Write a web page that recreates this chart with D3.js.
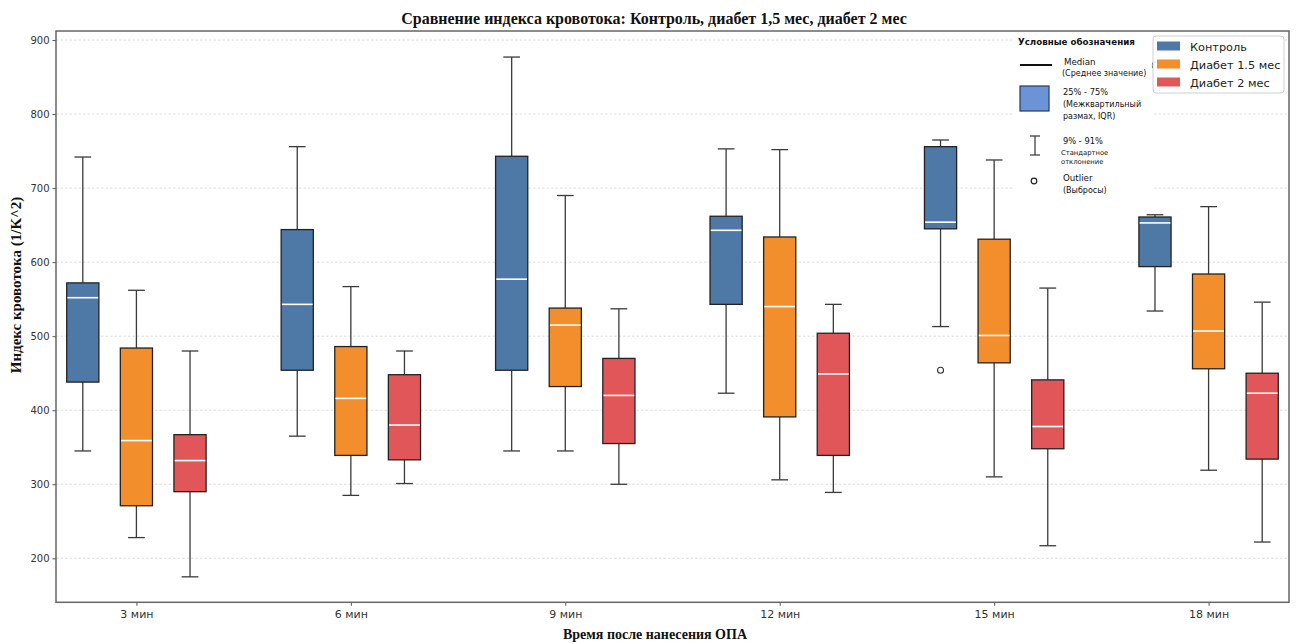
<!DOCTYPE html>
<html>
<head>
<meta charset="utf-8">
<script src="https://cdn.jsdelivr.net/npm/d3@7"></script>
<style>
  html, body { margin: 0; padding: 0; background: #fff; }
  svg { display: block; }
</style>
</head>
<body>
<svg id="chart" width="1297" height="644"></svg>
<script>
// Time points after application
const categories = ["3 мин", "6 мин", "9 мин", "12 мин", "15 мин", "18 мин"];
const seriesNames = ["Контроль", "Диабет 1.5 мес", "Диабет 2 мес"];
const seriesColors = ["#4e79a7", "#f28e2b", "#e15759"];

// Box statistics per time point: [whisker low (9%), Q1, median, Q3, whisker high (91%)]
const controlStats = [
  [345, 438, 552, 572, 742],
  [365, 454, 543, 644, 756],
  [345, 454, 577, 743, 877],
  [423, 543, 643, 662, 753],
  [513, 645, 654, 756, 765],
  [534, 594, 653, 661, 664]
];
const diabetes15Stats = [
  [228, 271, 359, 484, 562],
  [285, 339, 416, 486, 567],
  [345, 432, 515, 538, 690],
  [306, 391, 540, 634, 752],
  [310, 464, 501, 631, 738],
  [319, 456, 507, 584, 675]
];
const diabetes2Stats = [
  [175, 290, 332, 367, 480],
  [301, 333, 380, 448, 480],
  [300, 355, 420, 470, 537],
  [289, 339, 449, 504, 543],
  [217, 348, 378, 441, 565],
  [222, 334, 423, 450, 546]
];

// Outliers: [series index, category, value]
const outliers = [
  [0, "15 мин", 454],
  [0, "18 мин", 866]
];

const yTicks = [200, 300, 400, 500, 600, 700, 800, 900];

const allStats = [controlStats, diabetes15Stats, diabetes2Stats];

const W = 1297, H = 644;
const margin = { top: 31, right: 8, bottom: 41.7, left: 56 };
const svg = d3.select("#chart");

const x = d3.scalePoint()
  .domain(categories)
  .range([margin.left, W - margin.right])
  .padding(0.375);
const step = x.step();
const groupOffset = step * 0.25;
const boxW = step * 0.15;
const capW = boxW * 0.52;

const y = d3.scaleLinear()
  .domain([140.6, 912.2])
  .range([H - margin.bottom, margin.top]);

// horizontal dashed grid
svg.append("g")
  .selectAll("line")
  .data(yTicks)
  .join("line")
  .attr("x1", margin.left)
  .attr("x2", W - margin.right)
  .attr("y1", d => y(d))
  .attr("y2", d => y(d))
  .attr("stroke", "#d6d6d6")
  .attr("stroke-width", 0.8)
  .attr("stroke-dasharray", "2.5,2");

// boxes
const plot = svg.append("g");
allStats.forEach((stats, si) => {
  const g = plot.append("g");
  stats.forEach((s, ci) => {
    const [lo, q1, med, q3, hi] = s;
    const cx = x(categories[ci]) + (si - 1) * groupOffset;
    const wg = g.append("g").attr("stroke", "#3a3a3a").attr("stroke-width", 1.3);
    wg.append("line").attr("x1", cx).attr("x2", cx).attr("y1", y(lo)).attr("y2", y(q1));
    wg.append("line").attr("x1", cx).attr("x2", cx).attr("y1", y(q3)).attr("y2", y(hi));
    wg.append("line").attr("x1", cx - capW / 2).attr("x2", cx + capW / 2).attr("y1", y(lo)).attr("y2", y(lo));
    wg.append("line").attr("x1", cx - capW / 2).attr("x2", cx + capW / 2).attr("y1", y(hi)).attr("y2", y(hi));
    g.append("rect")
      .attr("x", cx - boxW / 2)
      .attr("width", boxW)
      .attr("y", y(q3))
      .attr("height", y(q1) - y(q3))
      .attr("fill", seriesColors[si])
      .attr("stroke", "#222")
      .attr("stroke-width", 1.3);
    g.append("line")
      .attr("x1", cx - boxW / 2 + 0.7)
      .attr("x2", cx + boxW / 2 - 0.7)
      .attr("y1", y(med))
      .attr("y2", y(med))
      .attr("stroke", "#ffffff")
      .attr("stroke-width", 1.6);
  });
});

// outlier markers
plot.append("g")
  .selectAll("circle")
  .data(outliers)
  .join("circle")
  .attr("cx", d => x(d[1]) + (d[0] - 1) * groupOffset)
  .attr("cy", d => y(d[2]))
  .attr("r", 3)
  .attr("fill", "none")
  .attr("stroke", "#333")
  .attr("stroke-width", 1.1);

// axes
const yAxis = svg.append("g")
  .attr("transform", `translate(${margin.left},0)`)
  .call(d3.axisLeft(y).tickValues(yTicks).tickSize(3.5).tickPadding(3));
yAxis.select(".domain").remove();
yAxis.selectAll("text").attr("font-family", "DejaVu Sans").attr("font-size", 10).attr("fill", "#333");
yAxis.selectAll("line").attr("stroke", "#555");

const xAxis = svg.append("g")
  .attr("transform", `translate(0,${H - margin.bottom})`)
  .call(d3.axisBottom(x).tickSize(3.5).tickPadding(4));
xAxis.select(".domain").remove();
xAxis.selectAll("text").attr("font-family", "DejaVu Sans").attr("font-size", 11).attr("fill", "#333");
xAxis.selectAll("line").attr("stroke", "#555");

// frame
svg.append("rect")
  .attr("x", margin.left)
  .attr("y", margin.top)
  .attr("width", W - margin.left - margin.right)
  .attr("height", H - margin.top - margin.bottom)
  .attr("fill", "none")
  .attr("stroke", "#666")
  .attr("stroke-width", 1.5);

// titles
svg.append("text")
  .attr("x", 654).attr("y", 24)
  .attr("text-anchor", "middle")
  .attr("font-family", "Liberation Serif")
  .attr("font-weight", "bold")
  .attr("font-size", 16)
  .attr("fill", "#111")
  .text("Сравнение индекса кровотока: Контроль, диабет 1,5 мес, диабет 2 мес");

svg.append("text")
  .attr("x", 655).attr("y", 639)
  .attr("text-anchor", "middle")
  .attr("font-family", "Liberation Serif")
  .attr("font-weight", "bold")
  .attr("font-size", 14)
  .attr("fill", "#111")
  .text("Время после нанесения ОПА");

svg.append("text")
  .attr("transform", "translate(21,285) rotate(-90)")
  .attr("text-anchor", "middle")
  .attr("font-family", "Liberation Serif")
  .attr("font-weight", "bold")
  .attr("font-size", 15)
  .attr("fill", "#111")
  .text("Индекс кровотока (1/K^2)");

// explanatory key
const key = svg.append("g");
key.append("rect")
  .attr("x", 1014).attr("y", 33).attr("width", 138).attr("height", 162)
  .attr("fill", "#fff").attr("fill-opacity", 0.9);
const keyText = (tx, ty, str, size, weight) => key.append("text")
  .attr("x", tx).attr("y", ty)
  .attr("font-family", "DejaVu Sans")
  .attr("font-size", size)
  .attr("font-weight", weight || "normal")
  .attr("fill", "#111")
  .text(str);
keyText(1018, 45, "Условные обозначения", 8.7, "bold");
key.append("line").attr("x1", 1020).attr("x2", 1052).attr("y1", 65).attr("y2", 65)
  .attr("stroke", "#111").attr("stroke-width", 2);
keyText(1064, 65, "Median", 8.7);
keyText(1062, 76, "(Среднее значение)", 8);
key.append("rect").attr("x", 1020).attr("y", 86).attr("width", 29).attr("height", 25)
  .attr("fill", "#6b93d6").attr("stroke", "#1f3a68").attr("stroke-width", 1.2);
keyText(1063, 95, "25% - 75%", 8.3);
keyText(1063, 107, "(Межквартильный", 8);
keyText(1063, 119, "размах, IQR)", 8);
const kx = 1035;
key.append("g").attr("stroke", "#333").attr("stroke-width", 1.2)
  .call(g => {
    g.append("line").attr("x1", kx).attr("x2", kx).attr("y1", 136).attr("y2", 155);
    g.append("line").attr("x1", kx - 5).attr("x2", kx + 5).attr("y1", 136).attr("y2", 136);
    g.append("line").attr("x1", kx - 5).attr("x2", kx + 5).attr("y1", 155).attr("y2", 155);
  });
keyText(1063, 144, "9% - 91%", 8.3);
keyText(1061, 155, "Стандартное", 6.8);
keyText(1061, 164, "отклонение", 6.8);
key.append("circle").attr("cx", 1034).attr("cy", 181).attr("r", 2.8)
  .attr("fill", "none").attr("stroke", "#222").attr("stroke-width", 1.2);
keyText(1063, 181, "Outlier", 8.7);
keyText(1063, 193, "(Выбросы)", 8);

// series legend
const leg = svg.append("g");
leg.append("rect")
  .attr("x", 1153).attr("y", 36).attr("width", 131).attr("height", 57)
  .attr("rx", 3)
  .attr("fill", "#fff").attr("fill-opacity", 0.95)
  .attr("stroke", "#d0d0d0").attr("stroke-width", 1);
seriesNames.forEach((name, i) => {
  const ly = 46 + i * 18;
  leg.append("rect")
    .attr("x", 1157).attr("y", ly - 4.5).attr("width", 23).attr("height", 9)
    .attr("fill", seriesColors[i]);
  leg.append("text")
    .attr("x", 1190).attr("y", ly + 4.5)
    .attr("font-family", "DejaVu Sans")
    .attr("font-size", 11.3)
    .attr("fill", "#222")
    .text(name);
});
</script>
</body>
</html>
